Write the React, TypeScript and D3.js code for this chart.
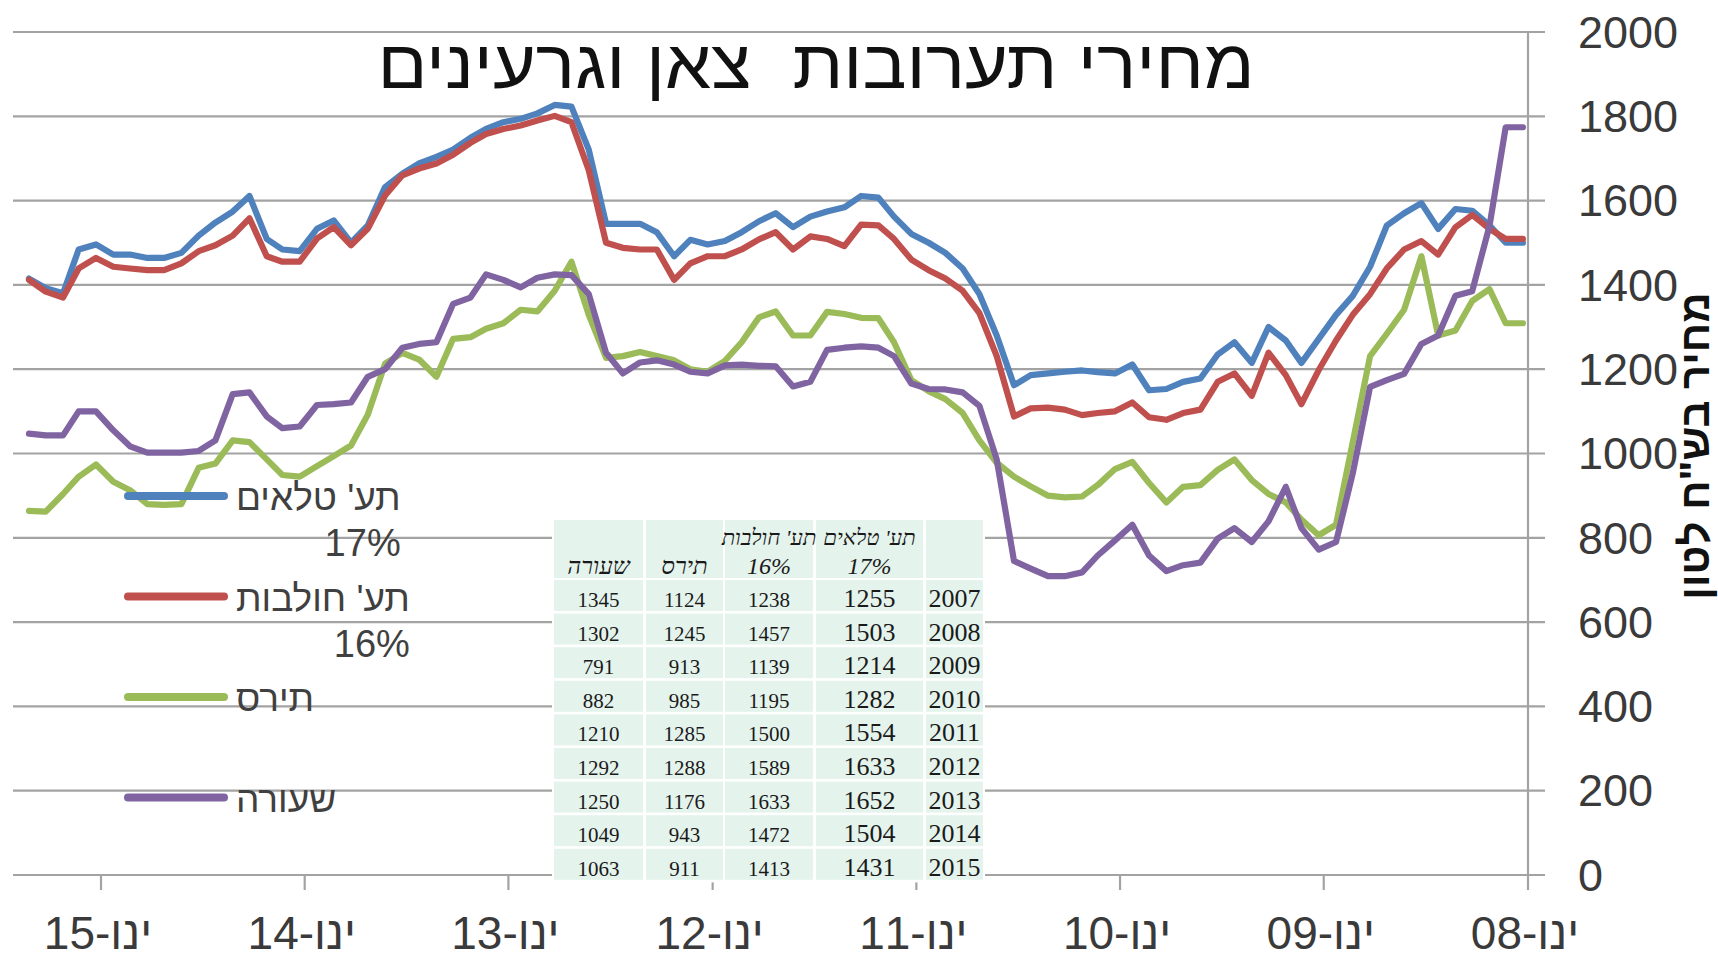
import { useEffect, useRef } from "react";
import * as d3 from "d3";

// monthly prices in NIS per ton, Jan 2008 onwards
const lambFeed = [
	1500, 1500, 1541, 1576, 1580, 1533, 1594, 1570, 1541, 1443,
	1374, 1329, 1272, 1215, 1268, 1300, 1215, 1264, 1235, 1178,
	1170, 1153, 1150, 1211, 1190, 1193, 1197, 1194, 1190, 1186,
	1162, 1280, 1378, 1439, 1476, 1500, 1521, 1562, 1607, 1611,
	1584, 1574, 1562, 1537, 1570, 1551, 1525, 1504, 1496, 1507,
	1468, 1525, 1545, 1545, 1545, 1721, 1823, 1827, 1807, 1794,
	1786, 1770, 1749, 1721, 1704, 1688, 1664, 1632, 1541, 1500,
	1553, 1533, 1480, 1484, 1509, 1611, 1574, 1548, 1517, 1476,
	1464, 1464, 1472, 1472, 1496, 1484, 1380, 1392, 1415,
];

const dairyFeed = [
	1509, 1509, 1533, 1566, 1537, 1472, 1504, 1484, 1439, 1378,
	1329, 1268, 1198, 1117, 1186, 1239, 1137, 1190, 1170, 1104,
	1096, 1080, 1086, 1121, 1100, 1096, 1091, 1104, 1109, 1107,
	1088, 1231, 1333, 1386, 1415, 1435, 1460, 1509, 1541, 1543,
	1492, 1509, 1515, 1484, 1525, 1508, 1484, 1468, 1468, 1451,
	1412, 1484, 1484, 1488, 1500, 1672, 1786, 1801, 1790, 1778,
	1770, 1758, 1737, 1709, 1688, 1676, 1660, 1612, 1533, 1494,
	1537, 1510, 1455, 1455, 1468, 1558, 1517, 1494, 1480, 1451,
	1435, 1435, 1439, 1443, 1464, 1439, 1370, 1384, 1412,
];

const corn = [
	1309, 1309, 1390, 1362, 1292, 1280, 1468, 1341, 1284, 1231,
	1027, 831, 806, 843, 884, 904, 937, 986, 961, 925,
	921, 884, 930, 980, 963, 925, 898, 896, 900, 922,
	945, 978, 1031, 1096, 1129, 1148, 1174, 1264, 1321, 1322,
	1331, 1336, 1280, 1280, 1337, 1323, 1264, 1220, 1194, 1200,
	1221, 1231, 1241, 1231, 1227, 1329, 1455, 1386, 1337, 1341,
	1309, 1296, 1276, 1272, 1182, 1223, 1239, 1213, 1092, 1019,
	994, 970, 945, 949, 986, 1027, 1031, 976, 966, 880,
	878, 880, 913, 933, 974, 945, 904, 862, 864,
];

const barley = [
	1774, 1774, 1540, 1385, 1374, 1280, 1260, 1189, 1174, 1158,
	953, 790, 772, 823, 921, 839, 790, 823, 798, 741,
	735, 721, 758, 831, 794, 758, 718, 709, 709, 727,
	745, 986, 1113, 1145, 1152, 1153, 1166, 1231, 1251, 1254,
	1251, 1246, 1170, 1159, 1207, 1208, 1211, 1209, 1190, 1194,
	1211, 1221, 1216, 1190, 1239, 1378, 1423, 1425, 1417, 1394,
	1412, 1425, 1370, 1355, 1264, 1260, 1251, 1200, 1182, 1121,
	1117, 1115, 1064, 1060, 1088, 1145, 1141, 1031, 1006, 1002,
	1002, 1002, 1017, 1055, 1100, 1100, 1043, 1043, 1047,
];

const tickYears = [2008, 2009, 2010, 2011, 2012, 2013, 2014, 2015];
const tickLabels = ["ינו-08", "ינו-09", "ינו-10", "ינו-11", "ינו-12", "ינו-13", "ינו-14", "ינו-15"];
const yTicks = [0, 200, 400, 600, 800, 1000, 1200, 1400, 1600, 1800, 2000];

// yearly averages table
const tableYears = [2007, 2008, 2009, 2010, 2011, 2012, 2013, 2014, 2015];
const tableLamb = [1255, 1503, 1214, 1282, 1554, 1633, 1652, 1504, 1431];
const tableDairy = [1238, 1457, 1139, 1195, 1500, 1589, 1633, 1472, 1413];
const tableCorn = [1124, 1245, 913, 985, 1285, 1288, 1176, 943, 911];
const tableBarley = [1345, 1302, 791, 882, 1210, 1292, 1250, 1049, 1063];

const series = [
	{ name: "תע' טלאים", sub: "17%", color: "#4f81bd", values: lambFeed },
	{ name: "תע' חולבות", sub: "16%", color: "#c0504d", values: dairyFeed },
	{ name: "תירס", sub: "", color: "#9bbb59", values: corn },
	{ name: "שעורה", sub: "", color: "#8064a2", values: barley },
];

const SANS = "'Liberation Sans', Arimo, Arial, 'DejaVu Sans', sans-serif";
const SERIF = "'Liberation Serif', Tinos, 'Times New Roman', serif";

export default function App() {
	const ref = useRef<SVGSVGElement>(null);

	useEffect(() => {
		if (!ref.current) return;
		const svg = d3.select(ref.current);
		svg.selectAll("*").remove();

		const plotLeft = 13;
		const axisX = 1528;
		const x = d3
			.scaleTime()
			.domain([new Date(2015, 0, 1), new Date(2008, 0, 1)])
			.range([101, axisX]);
		const y = d3.scaleLinear().domain([0, 2000]).range([875, 32]);
		const dateOf = (i: number) => new Date(2008, i, 10);

		// grid
		svg
			.append("g")
			.selectAll("line")
			.data(yTicks)
			.join("line")
			.attr("x1", plotLeft)
			.attr("x2", axisX + 17)
			.attr("y1", (d) => y(d))
			.attr("y2", (d) => y(d))
			.attr("stroke", "#a3a3a3")
			.attr("stroke-width", 2.2);

		svg
			.append("line")
			.attr("x1", axisX)
			.attr("x2", axisX)
			.attr("y1", y(2000))
			.attr("y2", y(0) + 15)
			.attr("stroke", "#a3a3a3")
			.attr("stroke-width", 2.2);

		const years = tickYears.map((yr) => new Date(yr, 0, 1));
		svg
			.append("g")
			.selectAll("line")
			.data(years.slice(1))
			.join("line")
			.attr("x1", (d) => x(d))
			.attr("x2", (d) => x(d))
			.attr("y1", y(0))
			.attr("y2", y(0) + 15)
			.attr("stroke", "#a3a3a3")
			.attr("stroke-width", 2.2);

		svg
			.append("g")
			.selectAll("text")
			.data(yTicks)
			.join("text")
			.attr("x", 1578)
			.attr("y", (d) => y(d))
			.attr("dy", "0.35em")
			.attr("font-family", SANS)
			.attr("font-size", 45)
			.attr("fill", "#3a3a3a")
			.text((d) => String(d));

		svg
			.append("g")
			.selectAll("text")
			.data(years)
			.join("text")
			.attr("x", (d) => x(d) - 3)
			.attr("y", 949)
			.attr("text-anchor", "middle")
			.attr("font-family", SANS)
			.attr("font-size", 46)
			.attr("fill", "#3a3a3a")
			.text((_, i) => tickLabels[i]);

		svg
			.append("text")
			.attr("transform", `translate(1694,446) rotate(-90)`)
			.attr("text-anchor", "middle")
			.attr("dominant-baseline", "central")
			.attr("font-family", SANS)
			.attr("font-weight", 700)
			.attr("font-size", 42)
			.attr("fill", "#111")
			.text('מחיר בש"ח לטון');

		// series
		const line = d3
			.line<number>()
			.x((_, i) => x(dateOf(i)))
			.y((v) => y(v));

		svg
			.append("g")
			.selectAll("path")
			.data(series)
			.join("path")
			.attr("d", (s) => line(s.values) ?? "")
			.attr("fill", "none")
			.attr("stroke", (s) => s.color)
			.attr("stroke-width", 6.2)
			.attr("stroke-linejoin", "round")
			.attr("stroke-linecap", "round");

		// legend
		const legendTop = 496;
		const legendStep = 100.5;
		const legend = svg
			.append("g")
			.selectAll("g")
			.data(series)
			.join("g")
			.attr("transform", (_, i) => `translate(0,${legendTop + i * legendStep})`);

		legend
			.append("line")
			.attr("x1", 128)
			.attr("x2", 224)
			.attr("stroke", (s) => s.color)
			.attr("stroke-width", 8)
			.attr("stroke-linecap", "round");

		legend.each(function (s) {
			const g = d3.select(this);
			const label = g
				.append("text")
				.attr("x", 236)
				.attr("y", 14)
				.attr("font-family", SANS)
				.attr("font-size", 37)
				.attr("fill", "#404040")
				.text(s.name);
			if (s.sub) {
				const w = (label.node() as SVGTextElement).getComputedTextLength();
				g.append("text")
					.attr("x", 236 + w)
					.attr("y", 60)
					.attr("text-anchor", "end")
					.attr("font-family", SANS)
					.attr("font-size", 38)
					.attr("fill", "#404040")
					.text(s.sub);
			}
		});

		// table
		const cols = [
			{ x0: 554, x1: 643, head: ["", "שעורה"], values: tableBarley, size: 21 },
			{ x0: 646, x1: 723, head: ["", "תירס"], values: tableCorn, size: 21 },
			{ x0: 725, x1: 813, head: ["תע' חולבות", "16%"], values: tableDairy, size: 21 },
			{ x0: 816, x1: 923, head: ["תע' טלאים", "17%"], values: tableLamb, size: 26 },
			{ x0: 926, x1: 983, head: ["", ""], values: tableYears, size: 26 },
		];
		const headTop = 520;
		const headH = 58;
		const rowTop = 580;
		const rowStep = 33.6;
		const rowH = 31;

		const table = svg.append("g");
		table
			.append("rect")
			.attr("x", 552)
			.attr("y", headTop - 2)
			.attr("width", 433)
			.attr("height", rowTop + rowStep * tableYears.length - headTop + 2)
			.attr("fill", "#fff");

		cols.forEach((c) => {
			const cx = (c.x0 + c.x1) / 2;
			table
				.append("rect")
				.attr("x", c.x0)
				.attr("y", headTop)
				.attr("width", c.x1 - c.x0)
				.attr("height", headH)
				.attr("fill", "#e4f3ec");
			c.head.forEach((h, k) => {
				if (!h) return;
				table
					.append("text")
					.attr("x", cx)
					.attr("y", headTop + 25 + k * 29)
					.attr("text-anchor", "middle")
					.attr("font-family", SERIF)
					.attr("font-style", "italic")
					.attr("font-size", k === 0 ? 22 : 24)
					.attr("fill", "#1a1a1a")
					.text(h);
			});
			c.values.forEach((v, r) => {
				const top = rowTop + r * rowStep;
				table
					.append("rect")
					.attr("x", c.x0)
					.attr("y", top)
					.attr("width", c.x1 - c.x0)
					.attr("height", rowH)
					.attr("fill", "#e4f3ec");
				table
					.append("text")
					.attr("x", cx)
					.attr("y", top + 27)
					.attr("text-anchor", "middle")
					.attr("font-family", SERIF)
					.attr("font-size", c.size)
					.attr("fill", "#1a1a1a")
					.text(String(v));
			});
		});

		// title
		svg
			.append("text")
			.attr("x", 816)
			.attr("y", 88)
			.attr("text-anchor", "middle")
			.attr("font-family", SANS)
			.attr("font-size", 68)
			.attr("textLength", 877)
			.attr("lengthAdjust", "spacingAndGlyphs")
			.attr("fill", "#111")
			.style("white-space", "pre")
			.text("מחירי תערובות  צאן וגרעינים");
	}, []);

	return (
		<svg
			ref={ref}
			width={1718}
			height={960}
			style={{ position: "absolute", left: 0, top: 0, background: "#fff" }}
		/>
	);
}
